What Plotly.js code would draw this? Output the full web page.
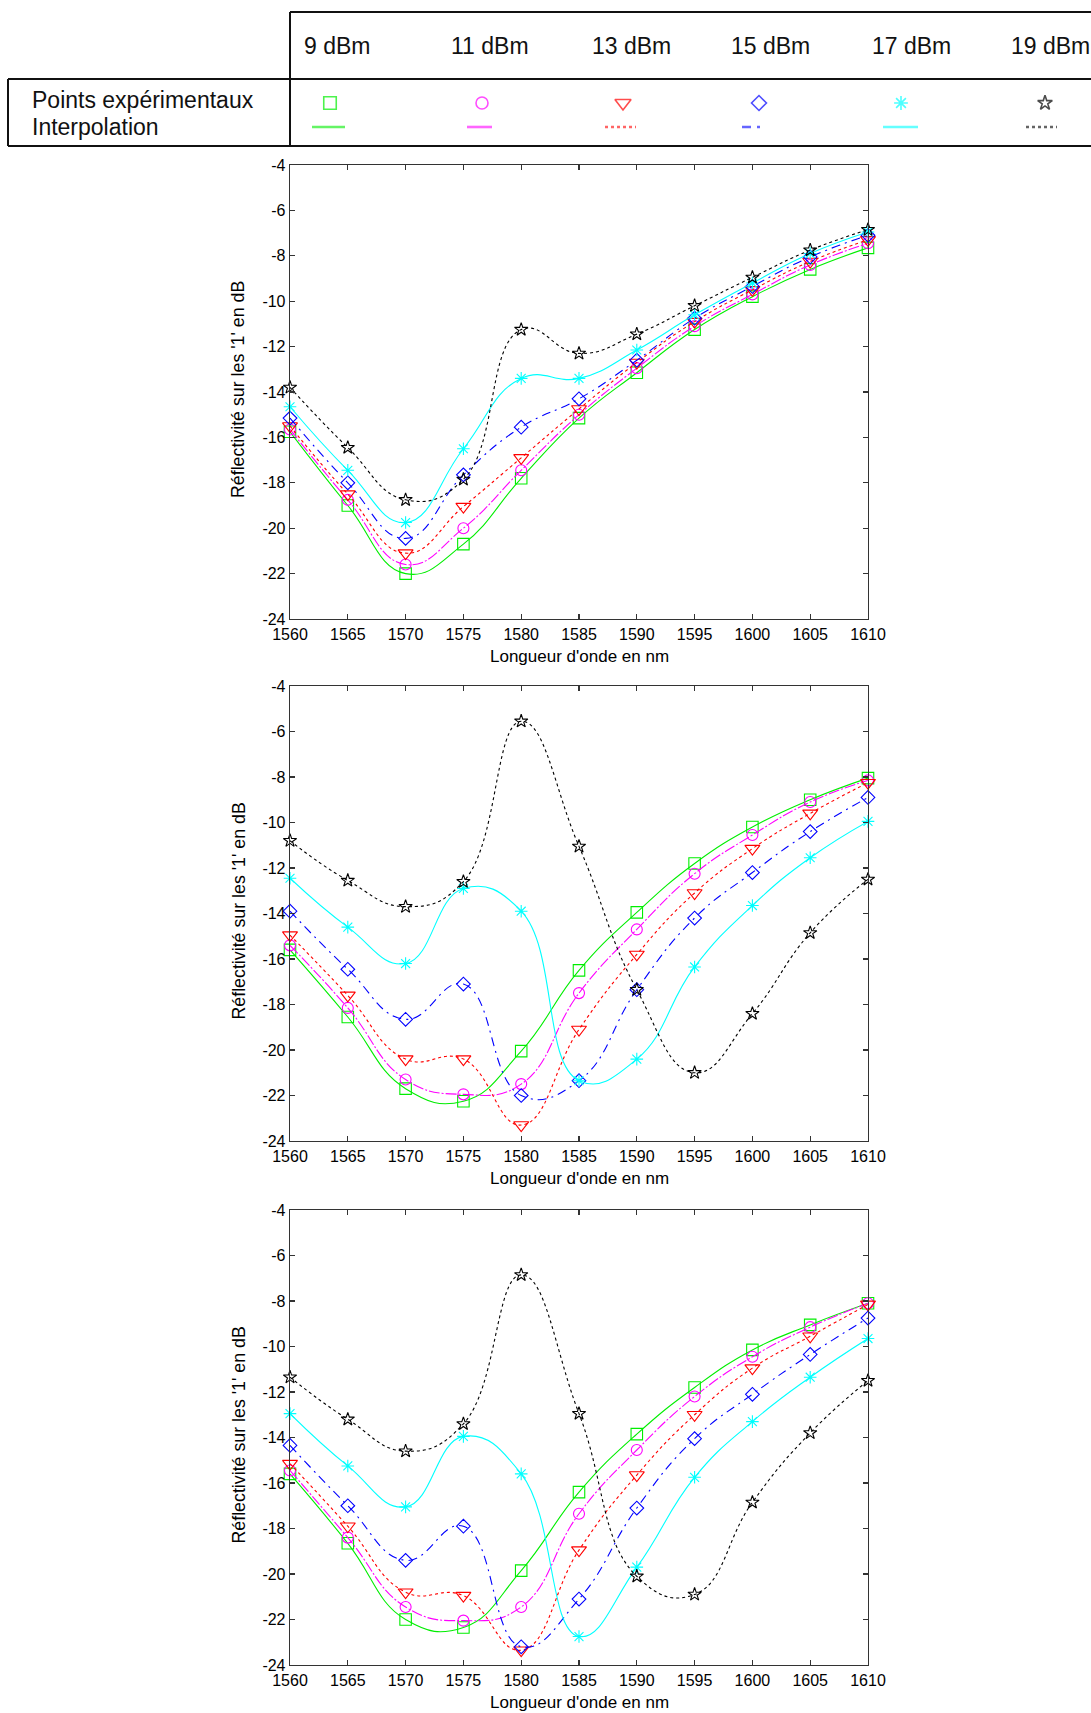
<!DOCTYPE html>
<html><head><meta charset="utf-8">
<script src="https://cdn.plot.ly/plotly-3.0.1.min.js"></script>
<style>html,body{margin:0;padding:0;background:#fff}#chart{width:1091px;height:1713px}</style>
</head><body><div id="chart"></div>
<script>
// ---------------- DATA ----------------
const wavelengths = [1560,1565,1570,1575,1580,1585,1590,1595,1600,1605,1610];
const powerLabels = ['9 dBm','11 dBm','13 dBm','15 dBm','17 dBm','19 dBm'];
const rowLabels = ['Points expérimentaux','Interpolation'];
const xTickVals = [1560,1565,1570,1575,1580,1585,1590,1595,1600,1605,1610];
const yTickVals = [-24,-22,-20,-18,-16,-14,-12,-10,-8,-6,-4];
const xTitleText = "Longueur d'onde en nm";
const yTitleText = "Réflectivité sur les '1' en dB";

// Plot 1 (top)
const top9  = [-15.75,-19.0,-22.0,-20.7,-17.8,-15.15,-13.15,-11.25,-9.8,-8.6,-7.65];
const top11 = [-15.65,-18.75,-21.6,-20.0,-17.45,-15.0,-12.95,-11.1,-9.7,-8.4,-7.45];
const top13 = [-15.5,-18.5,-21.1,-19.05,-16.9,-14.75,-12.7,-10.9,-9.5,-8.25,-7.3];
const top15 = [-15.15,-18.0,-20.45,-17.65,-15.55,-14.3,-12.6,-10.75,-9.35,-8.05,-7.1];
const top17 = [-14.65,-17.45,-19.75,-16.5,-13.4,-13.4,-12.15,-10.6,-9.2,-7.9,-6.95];
const top19 = [-13.8,-16.45,-18.75,-17.85,-11.25,-12.3,-11.45,-10.2,-8.95,-7.75,-6.85];

// Plot 2 (middle)
const mid9  = [-15.6,-18.55,-21.7,-22.25,-20.05,-16.5,-13.95,-11.8,-10.2,-9.0,-8.05];
const mid11 = [-15.4,-18.15,-21.3,-21.95,-21.5,-17.5,-14.7,-12.25,-10.55,-9.1,-8.15];
const mid13 = [-14.95,-17.6,-20.4,-20.4,-23.3,-19.1,-15.8,-13.1,-11.15,-9.6,-8.25];
const mid15 = [-13.9,-16.45,-18.65,-17.1,-22.0,-21.35,-17.35,-14.2,-12.2,-10.4,-8.9];
const mid17 = [-12.45,-14.6,-16.2,-12.9,-13.9,-21.35,-20.4,-16.35,-13.65,-11.55,-9.95];
const mid19 = [-10.8,-12.55,-13.7,-12.6,-5.55,-11.05,-17.35,-21.0,-18.4,-14.85,-12.5];

// Plot 3 (bottom)
const bot9  = [-15.6,-18.65,-22.0,-22.35,-19.85,-16.4,-13.85,-11.8,-10.15,-9.05,-8.1];
const bot11 = [-15.45,-18.4,-21.45,-22.05,-21.45,-17.35,-14.55,-12.2,-10.45,-9.15,-8.1];
const bot13 = [-15.15,-17.9,-20.8,-20.95,-23.35,-18.95,-15.65,-13.0,-10.95,-9.55,-8.15];
const bot15 = [-14.35,-17.0,-19.4,-17.9,-23.2,-21.1,-17.1,-14.05,-12.1,-10.35,-8.75];
const bot17 = [-12.95,-15.25,-17.05,-13.95,-15.6,-22.75,-19.7,-15.75,-13.3,-11.35,-9.65];
const bot19 = [-11.35,-13.2,-14.6,-13.4,-6.85,-12.95,-20.1,-20.9,-16.85,-13.8,-11.5];

// ---------------- STYLE ----------------
const W = 1091, H = 1713;
const seriesStyle = [
  {color:'#00ee00', symbol:'square-open',       size:11.5, dash:'solid',            legDash:'solid'},
  {color:'#ff00ff', symbol:'circle-open',       size:11,   dash:'11px,2px,2px,2px', legDash:'solid'},
  {color:'#ff0000', symbol:'triangle-down-open',size:13,   dash:'3px,3px',          legDash:'3px,3px'},
  {color:'#0000ff', symbol:'diamond-open',      size:10.5, dash:'9px,5px,2px,5px',  legDash:'9px,6px,3px,20px'},
  {color:'#00ffff', symbol:'asterisk-open',     size:10.5, dash:'solid',            legDash:'solid'},
  {color:'#000000', symbol:'star-open',         size:10,   dash:'3px,3px',          legDash:'3px,3px'}
];
const panels = [
  {data:[top9,top11,top13,top15,top17,top19], top:165, bottom:619},
  {data:[mid9,mid11,mid13,mid15,mid17,mid19], top:686, bottom:1141},
  {data:[bot9,bot11,bot13,bot15,bot17,bot19], top:1210, bottom:1665}
];
const plotLeft = 290, plotRight = 868;
const fontFam = '"Liberation Sans", Arial, Helvetica, sans-serif';

const traces = [];
const layout = {
  width: W, height: H,
  margin: {l:0, r:0, t:0, b:0, pad:0},
  paper_bgcolor: '#ffffff',
  plot_bgcolor: 'rgba(0,0,0,0)',
  showlegend: false,
  font: {family: fontFam, color: '#000'},
  shapes: [],
  annotations: []
};

panels.forEach((p, i) => {
  const n = i + 1;
  const xa = 'xaxis' + (n === 1 ? '' : n), ya = 'yaxis' + (n === 1 ? '' : n);
  const xr = 'x' + (n === 1 ? '' : n), yr = 'y' + (n === 1 ? '' : n);
  const common = {
    showline: true, linecolor: '#333', linewidth: 1.3, mirror: 'ticks',
    ticks: 'inside', ticklen: 5, tickwidth: 1.2, tickcolor: '#333',
    showgrid: false, zeroline: false, fixedrange: true,
    tickfont: {family: fontFam, size: 16, color: '#000'}
  };
  layout[xa] = Object.assign({}, common, {
    domain: [plotLeft / W, plotRight / W], range: [1560, 1610],
    tickmode: 'array', tickvals: xTickVals, ticktext: xTickVals.map(String),
    anchor: yr
  });
  layout[ya] = Object.assign({}, common, {
    domain: [1 - p.bottom / H, 1 - p.top / H], range: [-24, -4],
    tickmode: 'array', tickvals: yTickVals, ticktext: yTickVals.map(String),
    anchor: xr
  });
  p.data.forEach((vals, s) => {
    const st = seriesStyle[s];
    traces.push({
      type: 'scatter', mode: 'lines+markers', x: wavelengths, y: vals,
      xaxis: xr, yaxis: yr, cliponaxis: false,
      line: {shape: 'spline', smoothing: 1.3, color: st.color, dash: st.dash, width: 1.1},
      marker: {symbol: st.symbol, size: st.size, color: st.color, line: {color: st.color, width: 1.1}},
      hoverinfo: 'skip'
    });
  });
  // axis titles as annotations
  layout.annotations.push({
    xref: 'paper', yref: 'paper', x: (plotLeft + plotRight) / 2 / W, y: 1 - (p.bottom + 37) / H,
    xanchor: 'center', yanchor: 'middle', showarrow: false, text: xTitleText,
    font: {family: fontFam, size: 17, color: '#000'}
  });
  layout.annotations.push({
    xref: 'paper', yref: 'paper', x: 238 / W, y: 1 - (p.top + p.bottom) / 2 / H + 2 / H,
    xanchor: 'center', yanchor: 'middle', showarrow: false, text: yTitleText, textangle: -90,
    font: {family: fontFam, size: 17.8, color: '#000'}
  });
});

// ---------------- LEGEND TABLE (pixel overlay axis) ----------------
layout.xaxis4 = {domain: [0, 1], range: [0, W], visible: false, fixedrange: true, anchor: 'y4'};
layout.yaxis4 = {domain: [0, 1], range: [H, 0], visible: false, fixedrange: true, anchor: 'x4'};
const tableLines = [
  [290, 12, W + 5, 12], [8, 79, W + 5, 79], [8, 146, W + 5, 146],
  [290, 12, 290, 146], [8, 79, 8, 146]
];
tableLines.forEach(l => layout.shapes.push({
  type: 'line', xref: 'x4', yref: 'y4', x0: l[0], y0: l[1], x1: l[2], y1: l[3],
  line: {color: '#111', width: 2}
}));
const colTextX = [302, 449, 590, 729, 870, 1009];
const colMarkX = [330, 482, 623, 759, 901, 1045];
const colLine = [[312, 345], [467, 492], [605, 636], [742, 768], [883, 918], [1026, 1057]];
powerLabels.forEach((lab, k) => {
  layout.annotations.push({
    xref: 'x4', yref: 'y4', x: colTextX[k], y: 46, xanchor: 'left', yanchor: 'middle',
    showarrow: false, text: lab, font: {family: fontFam, size: 23, color: '#111'}
  });
  layout.shapes.push({
    type: 'line', xref: 'x4', yref: 'y4', x0: colLine[k][0], x1: colLine[k][1], y0: 127, y1: 127,
    line: {color: seriesStyle[k].color, width: 2.6, dash: seriesStyle[k].legDash}, opacity: 0.6
  });
});
rowLabels.forEach((lab, r) => {
  layout.annotations.push({
    xref: 'x4', yref: 'y4', x: 30, y: r === 0 ? 100 : 127, xanchor: 'left', yanchor: 'middle',
    showarrow: false, text: lab, font: {family: fontFam, size: 23, color: '#111'}
  });
});
traces.push({
  type: 'scatter', mode: 'markers', xaxis: 'x4', yaxis: 'y4', cliponaxis: false,
  x: colMarkX, y: colMarkX.map(() => 103),
  marker: {
    symbol: seriesStyle.map(s => s.symbol),
    size: seriesStyle.map(s => s.size + 1),
    color: seriesStyle.map(s => s.color),
    line: {color: seriesStyle.map(s => s.color), width: 1.6}
  },
  hoverinfo: 'skip'
});

Plotly.newPlot('chart', traces, layout, {staticPlot: true, displayModeBar: false});
</script>
</body></html>
